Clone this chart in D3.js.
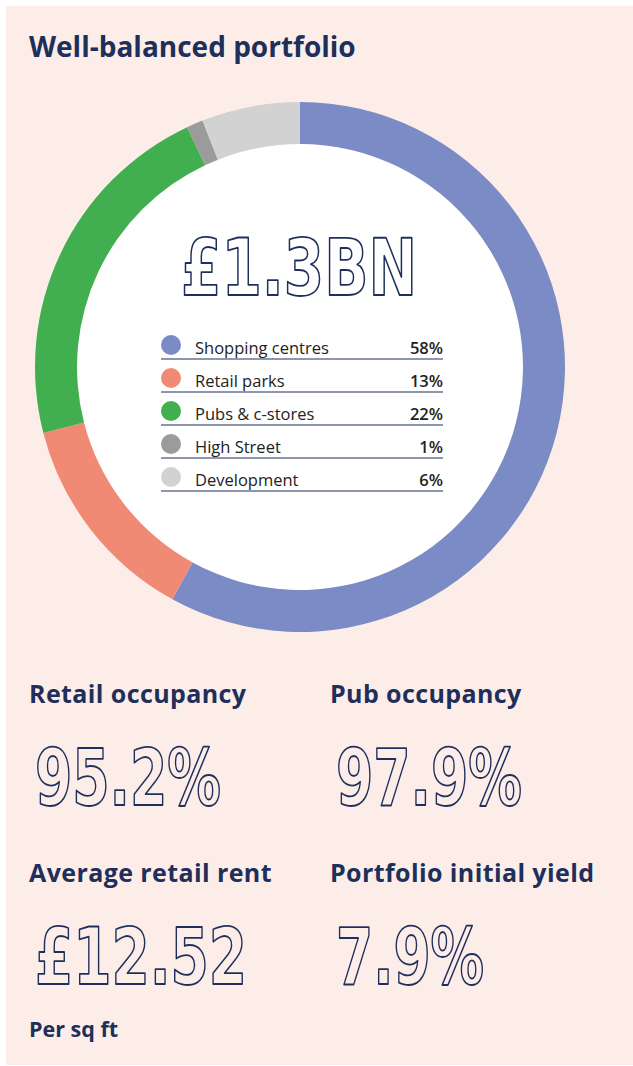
<!DOCTYPE html>
<html lang="en">
<head>
    <meta charset="UTF-8"/>
    <title>Well-balanced portfolio</title>
    <script src="https://d3js.org/d3.v7.min.js"></script>
    <style>
        body { margin: 0; background: #ffffff; }
        svg { display: block; }
        .head { font-family: "Open Sans", Lato, sans-serif; font-weight: 700; fill: #1d2f5a; }
        .big { font-family: "DejaVu Sans Condensed", "DejaVu Sans", sans-serif; font-weight: bold; stroke: #1d2f5a; stroke-width: 1.8; stroke-linejoin: round; }
        .leg { font-family: "Open Sans", Lato, sans-serif; fill: #222; }
    </style>
</head>
<body>
    <script>
        var w = 633;
        var h = 1066;

        // segment data
        var categories = ["Shopping centres", "Retail parks", "Pubs & c-stores", "High Street", "Development"];
        var shares = [58, 13, 22, 1, 6];
        var colours = ["#7b8bc5", "#f08a75", "#41ae50", "#9b9b9b", "#d2d2d2"];

        var totalLabel = "£1.3BN";

        // key figures
        var statTitles = ["Retail occupancy", "Pub occupancy", "Average retail rent", "Portfolio initial yield"];
        var statValues = ["95.2%", "97.9%", "£12.52", "7.9%"];

        var navy = "#1d2f5a";
        var bg = "#fdede9";

        var svg = d3.select("body")
            .append("svg")
            .attr("width", w)
            .attr("height", h);

        // panel
        svg.append("rect")
            .attr("x", 6)
            .attr("y", 6)
            .attr("width", w - 6)
            .attr("height", h - 7)
            .attr("fill", bg);

        svg.append("text")
            .attr("class", "head")
            .attr("x", 29)
            .attr("y", 57)
            .attr("font-size", 28)
            .text("Well-balanced portfolio");

        // donut
        var cx = 300, cy = 367;
        var outerR = 265, innerR = 223;

        var pie = d3.pie().sort(null).value(function(d) { return d; });
        var arc = d3.arc().innerRadius(innerR).outerRadius(outerR);

        var donut = svg.append("g")
            .attr("transform", "translate(" + cx + "," + cy + ")");

        donut.append("circle")
            .attr("r", innerR)
            .attr("fill", "#ffffff");

        donut.selectAll("path")
            .data(pie(shares))
            .enter()
            .append("path")
            .attr("d", arc)
            .attr("fill", function(d, i) { return colours[i]; });

        svg.append("text")
            .attr("class", "big")
            .attr("x", 181)
            .attr("y", 295)
            .attr("font-size", 78)
            .attr("fill", "#ffffff")
            .attr("textLength", 236)
            .attr("lengthAdjust", "spacingAndGlyphs")
            .text(totalLabel);

        // legend
        var rowY = d3.scaleBand()
            .domain(d3.range(categories.length))
            .range([329, 494]);

        var rows = svg.selectAll("g.row")
            .data(categories)
            .enter()
            .append("g")
            .attr("class", "row")
            .attr("transform", function(d, i) { return "translate(0," + rowY(i) + ")"; });

        rows.append("circle")
            .attr("cx", 171)
            .attr("cy", 16)
            .attr("r", 10)
            .attr("fill", function(d, i) { return colours[i]; });

        rows.append("text")
            .attr("class", "leg")
            .attr("x", 195)
            .attr("y", 25)
            .attr("font-size", 16.5)
            .text(function(d) { return d; });

        rows.append("text")
            .attr("class", "leg")
            .attr("x", 443)
            .attr("y", 25)
            .attr("font-size", 16.5)
            .attr("font-weight", 600)
            .attr("text-anchor", "end")
            .text(function(d, i) { return shares[i] + "%"; });

        rows.append("line")
            .attr("x1", 161)
            .attr("x2", 443)
            .attr("y1", 30)
            .attr("y2", 30)
            .attr("stroke", navy)
            .attr("stroke-width", 1.2);

        // stats grid
        var colX = [29, 330];
        var rowTop = [703, 882];
        var valueWidths = [186, 186, 212, 148];

        statTitles.forEach(function(t, i) {
            var x = colX[i % 2];
            var y = rowTop[Math.floor(i / 2)];
            svg.append("text")
                .attr("class", "head")
                .attr("x", x)
                .attr("y", y)
                .attr("font-size", 25)
                .attr("letter-spacing", 0.4)
                .text(t);
            svg.append("text")
                .attr("class", "big")
                .attr("x", x + 6)
                .attr("y", y + 102)
                .attr("font-size", 78)
                .attr("fill", bg)
                .attr("textLength", valueWidths[i])
                .attr("lengthAdjust", "spacingAndGlyphs")
                .text(statValues[i]);
        });

        svg.append("text")
            .attr("class", "head")
            .attr("x", 29)
            .attr("y", 1037)
            .attr("font-size", 21.5)
            .text("Per sq ft");
    </script>
</body>
</html>
